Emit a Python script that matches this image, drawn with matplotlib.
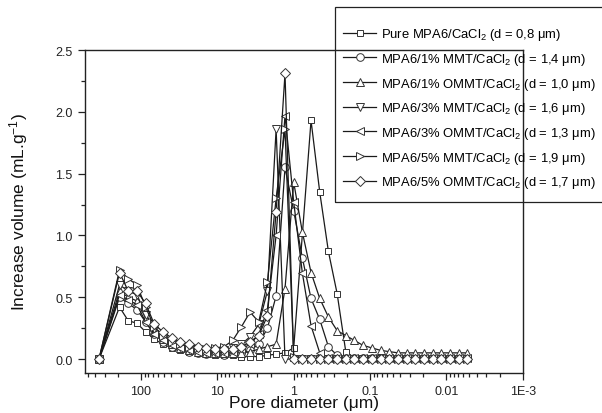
import matplotlib
matplotlib.use("Agg")
import matplotlib.pyplot as plt
import matplotlib.patches as mpatches
import numpy as np
from matplotlib.ticker import FixedLocator, FixedFormatter, MultipleLocator, LogLocator, NullFormatter

plt.rcParams['font.family'] = ['Liberation Sans', 'DejaVu Sans']
plt.rcParams['mathtext.fontset'] = 'custom'
plt.rcParams['mathtext.rm'] = 'Liberation Sans'
plt.rcParams['mathtext.it'] = 'Liberation Sans:italic'

# Pore diameter (um), common pressure table
pore_d = [355, 191.3, 147.2, 113.2, 87.1, 66.9, 51.5, 39.6, 30.5, 23.4, 18.0,
          13.9, 10.7, 8.20, 6.30, 4.85, 3.73, 2.87, 2.21, 1.70, 1.30, 1.00,
          0.772, 0.593, 0.456, 0.351, 0.270, 0.208, 0.160, 0.123, 0.0945,
          0.0727, 0.0559, 0.0430, 0.0331, 0.0254, 0.0195, 0.0150, 0.0116,
          0.0089, 0.0068, 0.0053]

pure = [0, 0.42, 0.31, 0.29, 0.22, 0.16, 0.12, 0.09, 0.07, 0.06, 0.05, 0.04, 0.03, 0.03,
        0.03, 0.02, 0.02, 0.02, 0.03, 0.04, 0.05, 0.09, None, 1.93, 1.35, 0.87, 0.53, 0.06,
        0.01, 0.01, 0.01, 0.01, 0.01, 0.01, 0.01, 0.01, 0.01, 0.01, 0.01, 0.01, 0.01, 0.01]
mmt1 = [0, 0.50, 0.45, 0.40, 0.30, 0.20, 0.14, 0.10, 0.08, 0.06, 0.05, 0.04, 0.04, 0.03,
        0.04, 0.05, 0.07, 0.12, 0.25, 0.51, 1.55, 1.20, 0.82, 0.49, 0.32, 0.10, 0.03,
        0.01, 0.01, 0.01, 0.01, 0.01, 0.01, 0.01, 0.01, 0.01, 0.01, 0.01, 0.01, 0.01, 0.01, 0.01]
ommt1 = [0, 0.55, 0.50, 0.47, 0.33, 0.22, 0.16, 0.12, 0.09, 0.07, 0.06, 0.05, 0.05, 0.05,
         0.05, 0.05, 0.06, 0.08, 0.10, 0.12, 0.57, 1.43, 1.03, 0.70, 0.49, 0.34, 0.23,
         0.19, 0.15, 0.11, 0.09, 0.07, 0.06, 0.05, 0.05, 0.05, 0.05, 0.05, 0.05, 0.05, 0.05, 0.05]
mmt3 = [0, 0.60, 0.55, 0.52, 0.36, 0.24, 0.17, 0.13, 0.10, 0.08, 0.07, 0.06, 0.06, 0.07,
        0.09, 0.12, 0.18, 0.28, 0.55, 1.86, 0.00, 0.00, 0.00, 0.00, 0.00, 0.00, 0.00,
        0.00, 0.00, 0.00, 0.00, 0.00, 0.00, 0.00, 0.00, 0.00, 0.00, 0.00, 0.00, 0.00, 0.00, 0.00]
ommt3 = [0, 0.52, 0.48, 0.44, 0.30, 0.20, 0.15, 0.11, 0.09, 0.07, 0.06, 0.05, 0.05, 0.05,
         0.06, 0.08, 0.12, 0.20, 0.40, 1.00, 1.97, 1.27, 0.70, 0.27, 0.05, 0.01, 0.01,
         0.01, 0.01, 0.01, 0.01, 0.01, 0.01, 0.01, 0.01, 0.01, 0.01, 0.01, 0.01, 0.01, 0.01, 0.01]
mmt5 = [0, 0.72, 0.65, 0.60, 0.42, 0.26, 0.19, 0.14, 0.12, 0.10, 0.09, 0.08, 0.09, 0.10,
        0.15, 0.26, 0.38, 0.30, 0.62, 1.30, 1.86, 0.02, 0.00, 0.00, 0.00, 0.00, 0.00,
        0.00, 0.00, 0.00, 0.00, 0.00, 0.00, 0.00, 0.00, 0.00, 0.00, 0.00, 0.00, 0.00, 0.00, 0.00]
ommt5 = [0, 0.70, 0.55, 0.55, 0.45, 0.28, 0.22, 0.17, 0.14, 0.12, 0.10, 0.09, 0.08, 0.08,
         0.08, 0.10, 0.14, 0.19, 0.35, 1.19, 2.31, 0.00, 0.00, 0.00, 0.00, 0.00, 0.00,
         0.00, 0.00, 0.00, 0.00, 0.00, 0.00, 0.00, 0.00, 0.00, 0.00, 0.00, 0.00, 0.00, 0.00, 0.00]

labels = [r'Pure MPA6/CaCl$_2$ (d = 0,8 μm)',
          r'MPA6/1% MMT/CaCl$_2$ (d = 1,4 μm)',
          r'MPA6/1% OMMT/CaCl$_2$ (d = 1,0 μm)',
          r'MPA6/3% MMT/CaCl$_2$ (d = 1,6 μm)',
          r'MPA6/3% OMMT/CaCl$_2$ (d = 1,3 μm)',
          r'MPA6/5% MMT/CaCl$_2$ (d = 1,9 μm)',
          r'MPA6/5% OMMT/CaCl$_2$ (d = 1,7 μm)']
series = [pure, mmt1, ommt1, mmt3, ommt3, mmt5, ommt5]
markers = ['s', 'o', '^', 'v', '<', '>', 'D']
msizes = [5, 5.5, 6, 6, 6, 6, 5]

xticks = [100, 10, 1, 0.1, 0.01, 0.001]
xticklabels = ['100', '10', '1', '0.1', '0.01', '1E-3']

fig = plt.figure(figsize=(6.02, 4.14), dpi=100)
ax = fig.add_axes([0.1404, 0.0966, 0.7279, 0.7802])

xd = np.array(pore_d, dtype=float)
for vals, m, ms, lab in zip(series, markers, msizes, labels):
    v = np.array([np.nan if a is None else a for a in vals], dtype=float)
    ok = ~np.isnan(v)
    ax.plot(xd[ok], v[ok], color='#1a1a1a', lw=0.9, marker=m, ms=ms,
            mfc='white', mec='#333333', mew=0.7, label=lab)

ax.set_xscale('log')
ax.set_xlim(550, 0.001)
ax.set_ylim(-0.113, 2.5)
ax.xaxis.set_major_locator(FixedLocator(xticks))
ax.xaxis.set_major_formatter(FixedFormatter(xticklabels))
ax.xaxis.set_minor_locator(LogLocator(base=10, subs=np.arange(2, 10), numticks=20))
ax.xaxis.set_minor_formatter(NullFormatter())
ax.yaxis.set_major_locator(MultipleLocator(0.5))
ax.yaxis.set_minor_locator(MultipleLocator(0.25))
ax.yaxis.set_major_formatter(matplotlib.ticker.FormatStrFormatter('%.1f'))

ax.tick_params(which='both', direction='out', top=False, right=False, width=0.9,
               labelsize=9, colors='#222222')
ax.tick_params(which='major', length=5)
ax.tick_params(which='minor', length=3)
for s in ax.spines.values():
    s.set_linewidth(1.0)
    s.set_color('#222222')

ax.set_xlabel('Pore diameter (μm)', fontsize=12.5, labelpad=-1, color='#111111')
ax.set_ylabel(r'Increase volume (mL.g$^{-1}$)', fontsize=12.5, labelpad=18, color='#111111')

leg = fig.legend(loc='upper left', bbox_to_anchor=(333/602, 1 - 17/414), fontsize=9.4,
                 frameon=False, handlelength=2.5, labelspacing=0.66, borderpad=0.8,
                 handletextpad=0.35, borderaxespad=0)

frame = mpatches.Rectangle((335/602, 1 - 203/414), (610 - 335)/602, 195/414,
                           transform=fig.transFigure, fill=False, lw=0.9,
                           edgecolor='#222222', clip_on=False)
fig.patches.append(frame)

fig.savefig('out.png', dpi=100)
